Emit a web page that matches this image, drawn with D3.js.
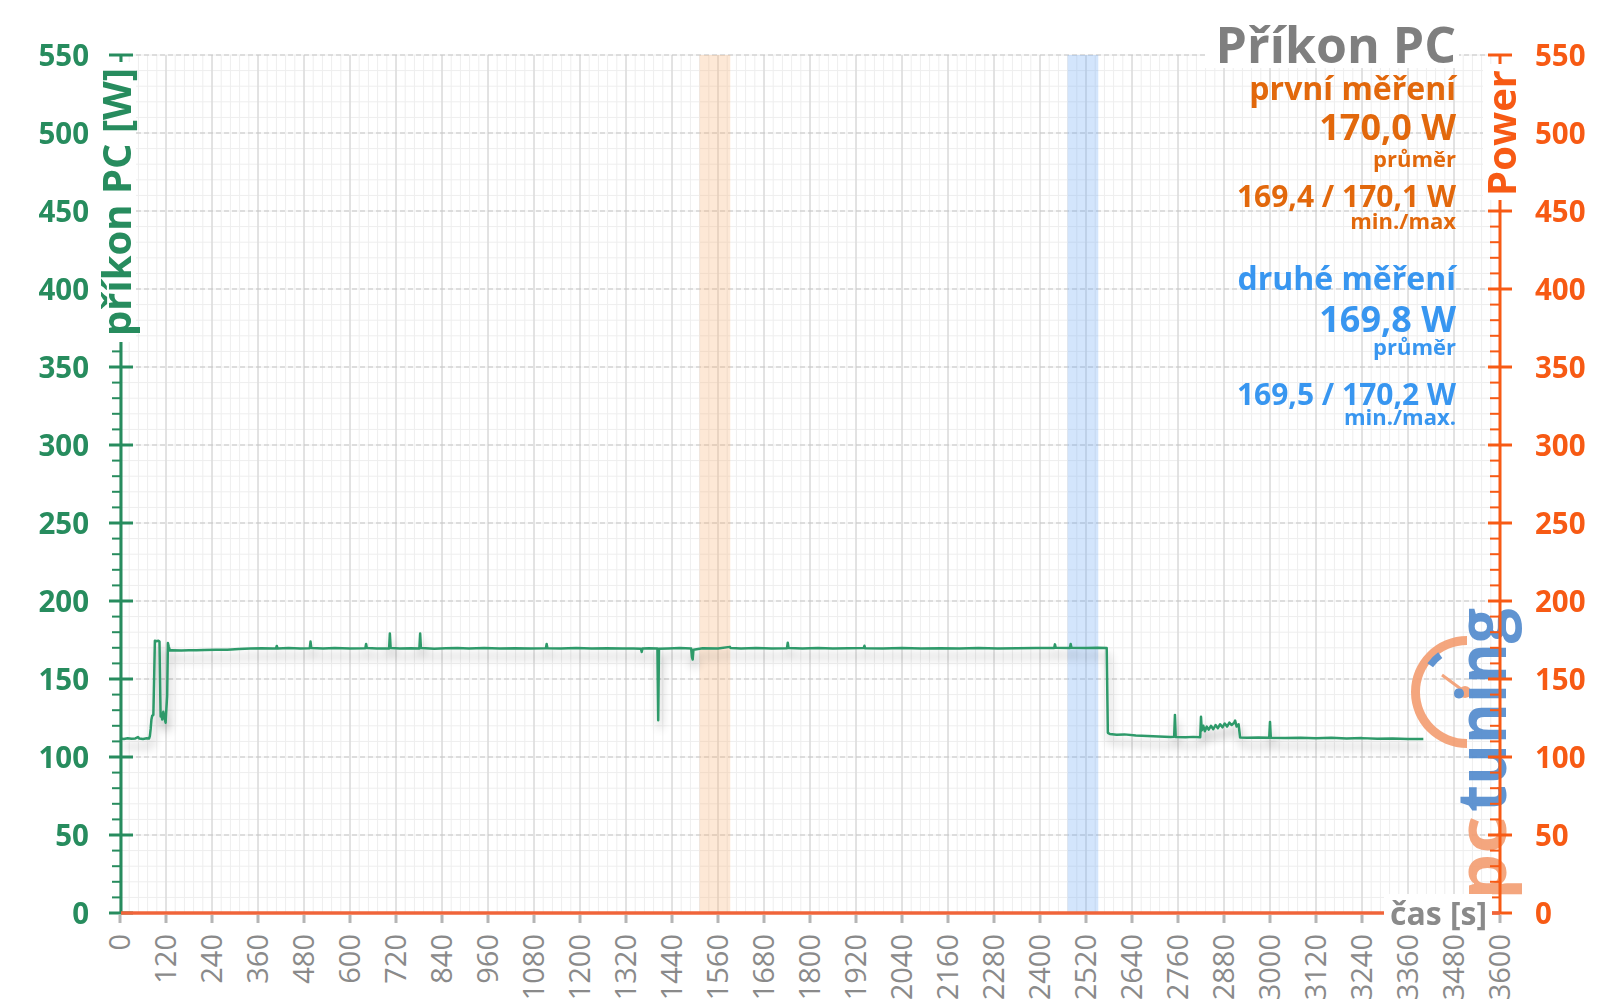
<!DOCTYPE html>
<html><head><meta charset="utf-8">
<script src="https://cdn.jsdelivr.net/npm/d3@7"></script>
<style>
html,body{margin:0;padding:0;background:#fff;}
svg{display:block;font-family:"Open Sans",sans-serif;}
</style></head>
<body><svg id="c" width="1600" height="1008"></svg>
<script>
// ---------- data ----------
const xTicks = [0,120,240,360,480,600,720,840,960,1080,1200,1320,1440,1560,1680,1800,1920,2040,2160,2280,2400,2520,2640,2760,2880,3000,3120,3240,3360,3480,3600];
const yTicks = [0,50,100,150,200,250,300,350,400,450,500,550];
const bandFirst = [1512,1592];   // první měření
const bandSecond = [2472,2552];  // druhé měření
const timeSec = [0,10,20,30,40,47,50,60,70,76,78,80,82,84,87,89,91,95,100,103,105,106,108,110,113,116,119,121,123,125,127,130,
135,160,180,200,220,250,280,310,340,370,400,407,409,411,440,470,495,497,499,530,560,600,640,642,644,670,702,704,706,730,760,781,783,785,
820,850,880,910,950,990,1030,1070,1111,1113,1115,1150,1190,1230,1270,1310,1340,1359,1361,1363,1380,1402,1404,1406,1430,1460,1490,1492,1494,1496,
1520,1560,1591,1593,1620,1660,1700,1740,1742,1744,1780,1820,1860,1900,1940,1942,1944,1990,2040,2090,2140,2190,2240,2290,2340,2390,2437,2439,2441,
2478,2480,2482,2520,2550,2574,2577,2582,2600,2620,2650,2680,2710,2740,2750,2752,2754,2780,2800,2818,2820,2822,2826,2830,2835,2840,2846,2852,2858,
2864,2870,2876,2882,2888,2894,2900,2906,2909,2913,2918,2922,2940,2970,2998,3000,3002,3040,3080,3120,3160,3200,3240,3280,3320,3360,3400];
const powerW = [111.8,111.6,112.0,111.7,111.9,112.8,111.8,111.6,112.0,111.9,113.5,118,124,126.5,127,150,174.5,174.2,174.5,174,140,126,128,124,129,125,122,131,139,173,171,168.3,
168.4,168.2,168.5,168.4,168.6,168.8,168.7,169.2,169.5,169.7,169.5,169.6,171.2,169.6,169.8,169.5,169.7,174,169.9,169.6,169.8,169.5,169.7,172.5,169.8,169.6,169.6,179.2,169.8,169.5,169.7,169.6,179.2,169.9,
169.4,169.7,169.9,169.5,169.8,169.6,169.7,169.5,169.7,172.4,169.7,169.5,169.8,169.6,169.7,169.5,169.6,169.4,167.3,169.5,169.7,169.6,123.5,169.4,169.6,169.8,169.5,164,162.5,168.8,
169.7,169.5,170.6,169.8,169.6,169.8,169.5,169.7,173.3,169.8,169.6,169.8,169.5,169.7,169.8,171.3,169.7,169.6,169.8,169.6,169.7,169.5,169.8,169.6,169.7,169.9,169.8,172.2,170,
169.9,172.4,170,169.8,170,169.9,115.5,114.8,114.2,114.5,113.8,113.5,113.1,112.8,113,127,112.8,112.6,112.9,112.7,125.8,117,120,116.5,119.5,117.5,120,117.8,120.5,
118.5,121,119,121.5,119.5,122,120.5,121.8,123.3,119.5,121,112.5,112.3,112.5,112.3,122.5,112.4,112.2,112.4,112.0,112.3,111.9,112.1,111.7,111.9,111.5,111.6];

const titleText = "Příkon PC";
const firstLines = ["první měření","170,0 W","průměr","169,4 / 170,1 W","min./max"];
const secondLines = ["druhé měření","169,8 W","průměr","169,5 / 170,2 W","min./max."];

// ---------- setup ----------
const svg = d3.select("#c");
svg.append("rect").attr("width",1600).attr("height",1008).attr("fill","#fff");
const x = d3.scaleLinear().domain([0,3600]).range([120,1500]);
const y = d3.scaleLinear().domain([0,550]).range([913,55]);

const GREEN="#278c5e", LINE="#2f9a6a", ORANGE="#f75a14", ORTXT="#e2680c", BLUE="#3896f0", GRAY="#8a8a8a";

const defs = svg.append("defs");
const f = defs.append("filter").attr("id","sh").attr("x","-5%").attr("y","-20%").attr("width","110%").attr("height","160%");
f.append("feGaussianBlur").attr("in","SourceAlpha").attr("stdDeviation",5).attr("result","b");
f.append("feOffset").attr("in","b").attr("dx",2).attr("dy",8).attr("result","o");
f.append("feComponentTransfer").attr("in","o").attr("result","o2").append("feFuncA").attr("type","linear").attr("slope",0.3);
const m = f.append("feMerge"); m.append("feMergeNode").attr("in","o2"); m.append("feMergeNode").attr("in","SourceGraphic");

// ---------- grid ----------
const grid = svg.append("g");
const minorX = d3.range(0,3601,24), minorY = d3.range(0,551,10);
grid.selectAll(".mx").data(minorX).join("line").attr("x1",d=>x(d)).attr("x2",d=>x(d)).attr("y1",y(550)).attr("y2",y(0)).attr("stroke","#eeeeee").attr("stroke-width",1);
grid.selectAll(".my").data(minorY).join("line").attr("x1",x(0)).attr("x2",x(3600)).attr("y1",d=>y(d)).attr("y2",d=>y(d)).attr("stroke","#eeeeee").attr("stroke-width",1);
grid.selectAll(".Mx").data(xTicks).join("line").attr("x1",d=>x(d)).attr("x2",d=>x(d)).attr("y1",y(550)).attr("y2",y(0)).attr("stroke","#d6d6d6").attr("stroke-width",1.2);
grid.selectAll(".My").data(yTicks).join("line").attr("x1",x(0)).attr("x2",x(3600)).attr("y1",d=>y(d)).attr("y2",d=>y(d)).attr("stroke","#c4c4c4").attr("stroke-width",1.2).attr("stroke-dasharray","5,3");

// bands
svg.append("rect").attr("x",x(bandFirst[0])).attr("width",x(bandFirst[1])-x(bandFirst[0])).attr("y",y(550)).attr("height",y(0)-y(550)).attr("fill","rgba(250,180,120,0.30)");
svg.append("rect").attr("x",x(bandSecond[0])).attr("width",x(bandSecond[1])-x(bandSecond[0])).attr("y",y(550)).attr("height",y(0)-y(550)).attr("fill","rgba(110,170,245,0.30)");

// ---------- logo ----------
const logo = svg.append("g").attr("opacity",0.9);
const cx=1467, cy=692;
logo.append("path").attr("transform",`translate(${cx},${cy})`)
  .attr("d",d3.arc()({innerRadius:47,outerRadius:56,startAngle:Math.PI*1.0,endAngle:Math.PI*2.0}))
  .attr("fill","#f39c70");
logo.append("path").attr("transform",`translate(${cx},${cy})`)
  .attr("d",d3.arc()({innerRadius:42,outerRadius:49,startAngle:Math.PI*1.70,endAngle:Math.PI*1.80}))
  .attr("fill","#4f88cc");
logo.append("line").attr("x1",1442).attr("y1",675).attr("x2",cx-2).attr("y2",cy).attr("stroke","#f39c70").attr("stroke-width",3);
logo.append("circle").attr("cx",cx-2).attr("cy",cy).attr("r",6).attr("fill","#f39c70");
logo.append("text").attr("transform","translate(1506,900) rotate(-90)").attr("font-size",68).attr("font-weight",700)
  .attr("fill","#f39c70").attr("textLength",84).attr("lengthAdjust","spacingAndGlyphs").text("pc");
logo.append("text").attr("transform","translate(1506,812) rotate(-90)").attr("font-size",68).attr("font-weight",700)
  .attr("fill","#4f88cc").attr("textLength",204).attr("lengthAdjust","spacingAndGlyphs").text("tuning");

// ---------- data line ----------
const pts = timeSec.map((t,i)=>[t,powerW[i]]);
svg.append("path").datum(pts).attr("fill","none").attr("stroke",LINE).attr("stroke-width",2.5)
  .attr("stroke-linejoin","round").attr("filter","url(#sh)")
  .attr("d",d3.line().x(d=>x(d[0])).y(d=>y(d[1])));

// ---------- axes ----------
const minorTicks = d3.range(0,551,10);
// left
const la = svg.append("g");
la.append("line").attr("x1",121).attr("x2",121).attr("y1",y(550)).attr("y2",y(0)).attr("stroke",GREEN).attr("stroke-width",3);
la.selectAll(".mt").data(minorTicks).join("line").attr("x1",112).attr("x2",121).attr("y1",d=>y(d)).attr("y2",d=>y(d)).attr("stroke",GREEN).attr("stroke-width",2);
la.selectAll(".Mt").data(yTicks).join("line").attr("x1",109).attr("x2",133).attr("y1",d=>y(d)).attr("y2",d=>y(d)).attr("stroke",GREEN).attr("stroke-width",3);
la.selectAll("text").data(yTicks).join("text").attr("x",89).attr("y",d=>y(d)).attr("dy","0.36em").attr("text-anchor","end")
  .attr("font-size",29.5).attr("font-weight",700).attr("fill",GREEN).text(d=>d);
// right
const ra = svg.append("g");
ra.append("line").attr("x1",1500).attr("x2",1500).attr("y1",y(550)).attr("y2",y(0)).attr("stroke",ORANGE).attr("stroke-width",3);
ra.selectAll(".mt").data(minorTicks).join("line").attr("x1",1490).attr("x2",1500).attr("y1",d=>y(d)).attr("y2",d=>y(d)).attr("stroke",ORANGE).attr("stroke-width",2);
ra.selectAll(".Mt").data(yTicks).join("line").attr("x1",1488).attr("x2",1512).attr("y1",d=>y(d)).attr("y2",d=>y(d)).attr("stroke",ORANGE).attr("stroke-width",3);
ra.selectAll("text").data(yTicks).join("text").attr("x",1535).attr("y",d=>y(d)).attr("dy","0.36em").attr("text-anchor","start")
  .attr("font-size",29.5).attr("font-weight",700).attr("fill",ORANGE).text(d=>d);
// bottom
const ba = svg.append("g");
ba.selectAll("rect").data(xTicks).join("rect").attr("x",d=>x(d)-1.5).attr("y",915).attr("width",3).attr("height",8).attr("fill","#b5b5b5");
ba.append("line").attr("x1",121).attr("x2",1500).attr("y1",y(0)).attr("y2",y(0)).attr("stroke","#f0643a").attr("stroke-width",3.5);
ba.selectAll("text").data(xTicks).join("text").attr("transform",d=>`translate(${x(d)},934) rotate(-90)`)
  .attr("dy","0.36em").attr("text-anchor","end").attr("font-size",29).attr("fill",GRAY).text(d=>d);

// axis titles
svg.append("rect").attr("x",96).attr("y",62).attr("width",40).attr("height",280).attr("fill","#fff");
svg.append("text").attr("transform","translate(117,202) rotate(-90)").attr("dy","0.36em").attr("text-anchor","middle")
  .attr("font-size",40).attr("font-weight",700).attr("fill",GREEN).text("příkon PC [W]");
svg.append("rect").attr("x",1483).attr("y",64).attr("width",36).attr("height",136).attr("fill","#fff");
svg.append("text").attr("transform","translate(1502,133) rotate(-90)").attr("dy","0.36em").attr("text-anchor","middle")
  .attr("font-size",40).attr("font-weight",700).attr("fill",ORANGE).text("Power");
svg.append("rect").attr("x",1384).attr("y",894).attr("width",108).attr("height",40).attr("fill","#fff");
svg.append("text").attr("x",1390).attr("y",913).attr("dy","0.36em").attr("font-size",32).attr("font-weight",700).attr("fill",GRAY).text("čas [s]");

// ---------- text block ----------
const RX = 1456;
svg.append("rect").attr("x",1205).attr("y",20).attr("width",254).attr("height",48).attr("fill","#fff");
svg.append("text").attr("x",RX).attr("y",63).attr("text-anchor","end").attr("font-size",50).attr("font-weight",700).attr("fill","#7f7f7f").text(titleText);
const sizes=[32,36,22,30,22];
const firstY=[100,140,167,207,229], secondY=[290,332,355,405,425];
firstLines.forEach((t,i)=>svg.append("text").attr("x",RX).attr("y",firstY[i]).attr("text-anchor","end").attr("font-size",sizes[i]).attr("font-weight",700).attr("fill",ORTXT).text(t));
secondLines.forEach((t,i)=>svg.append("text").attr("x",RX).attr("y",secondY[i]).attr("text-anchor","end").attr("font-size",sizes[i]).attr("font-weight",700).attr("fill",BLUE).text(t));
</script></body></html>
